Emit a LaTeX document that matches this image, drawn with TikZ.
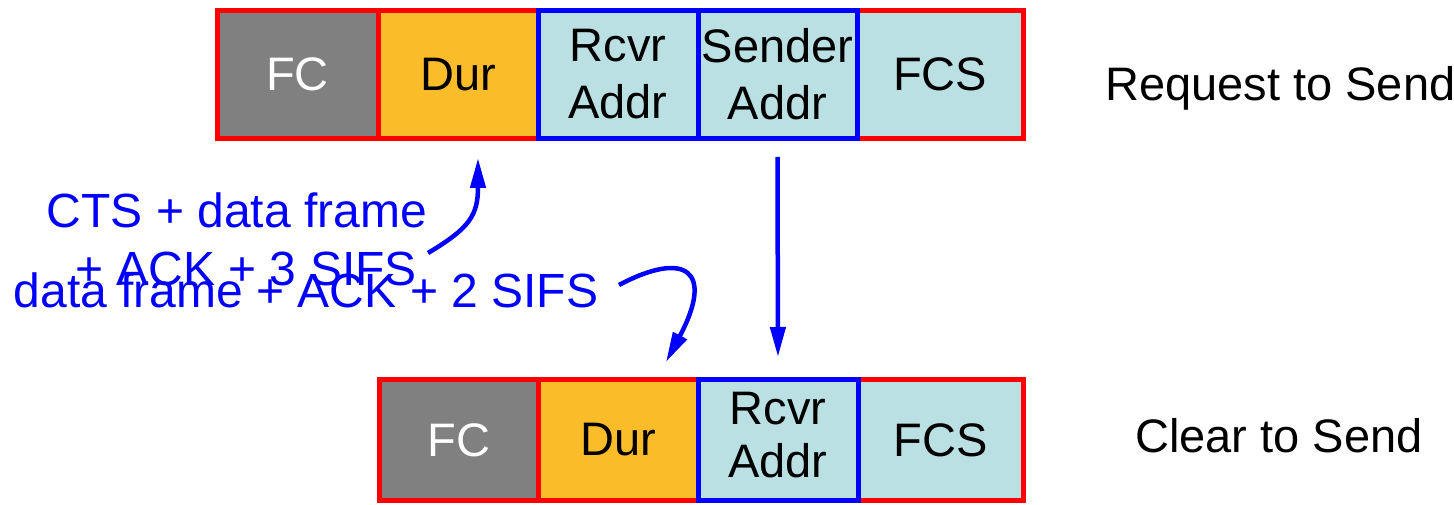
\documentclass[tikz,border=0pt]{standalone}
\usepackage{fontspec}
\setmainfont{Liberation Sans}
\usetikzlibrary{arrows.meta}
\definecolor{fcgray}{HTML}{808080}
\definecolor{durorange}{HTML}{FBBC2A}
\definecolor{addrblue}{HTML}{BBE0E3}
\definecolor{pblue}{HTML}{0000FF}
\definecolor{pred}{HTML}{FF0000}
\begin{document}
\begin{tikzpicture}[x=1pt,y=-1pt,
  cell/.style={draw, line width=5pt, inner sep=0pt, align=center,
    font=\fontsize{47}{57}\selectfont},
  toprow/.style={cell, minimum height=128pt},
  botrow/.style={cell, minimum height=121pt},
  redcell/.style={draw=pred},
  bluecell/.style={draw=pblue},
  fccell/.style={fill=fcgray, text=white},
  durcell/.style={fill=durorange, text=black},
  addrcell/.style={fill=addrblue, text=black},
  bluetxt/.style={text=pblue, inner sep=0pt, font=\fontsize{48}{56}\selectfont},
  sidetxt/.style={text=black, inner sep=0pt, font=\fontsize{47}{56}\selectfont},
  arr/.style={draw=pblue, line width=4.5pt, -{Triangle[length=30pt,width=15pt]}}
]
\useasboundingbox (0,0) rectangle (1454,505);

% Request to Send frame
\node[toprow, redcell, fccell, minimum width=161pt] (rfc) at (297.5,74.5) {FC};
\node[toprow, redcell, durcell, minimum width=160pt] (rdur) at (458,74.5) {Dur};
\node[toprow, redcell, addrcell, minimum width=166pt] (rfcs) at (940,74.5) {FCS};
\node[toprow, bluecell, addrcell, minimum width=160pt] (rrcvr) at (618,74.5) {Rcvr\\Addr};
\node[toprow, bluecell, addrcell, minimum width=159pt] (rsend) at (777.5,74.5) {Sender\\Addr};

% Clear to Send frame
\node[botrow, redcell, fccell, minimum width=158.5pt] (cfc) at (458.75,440) {\raisebox{-5pt}{FC}};
\node[botrow, redcell, durcell, minimum width=160pt] (cdur) at (618,440) {\raisebox{-5pt}{Dur}};
\node[botrow, redcell, addrcell, minimum width=165pt] (cfcs) at (940.5,440) {\raisebox{-5pt}{FCS}};
\node[botrow, bluecell, addrcell, minimum width=160pt] (crcvr) at (778,440) {\raisebox{-5pt}{\begin{tabular}{@{}c@{}}Rcvr\\[-4pt]Addr\end{tabular}}};

% side labels
\node[sidetxt, anchor=base west] (rts) at (1105,101) {Request to Send};
\node[sidetxt, anchor=base west] (cts) at (1135,452) {Clear to Send};

% blue annotation texts
\node[bluetxt, anchor=base] (dur1a) at (237,228) {CTS + data frame};
\node[bluetxt, anchor=base] (dur1b) at (246,285) {+ ACK + 3 SIFS};
\node[bluetxt, anchor=base] (dur2) at (306,307) {data frame + ACK + 2 SIFS};

% arrows
\draw[arr, shorten <=16pt, shorten >=20pt] (rsend.south) -- (crcvr.north);
\coordinate (t1) at (428,253);
\draw[arr, shorten >=17pt] (t1) .. controls (470,228) and (478,215) .. ([xshift=20pt]rdur.south);
\coordinate (t2) at (619,285);
\draw[arr, shorten >=17pt] (t2) .. controls (685,250) and (715,270) .. ([xshift=40pt]cdur.north);
\end{tikzpicture}
\end{document}
